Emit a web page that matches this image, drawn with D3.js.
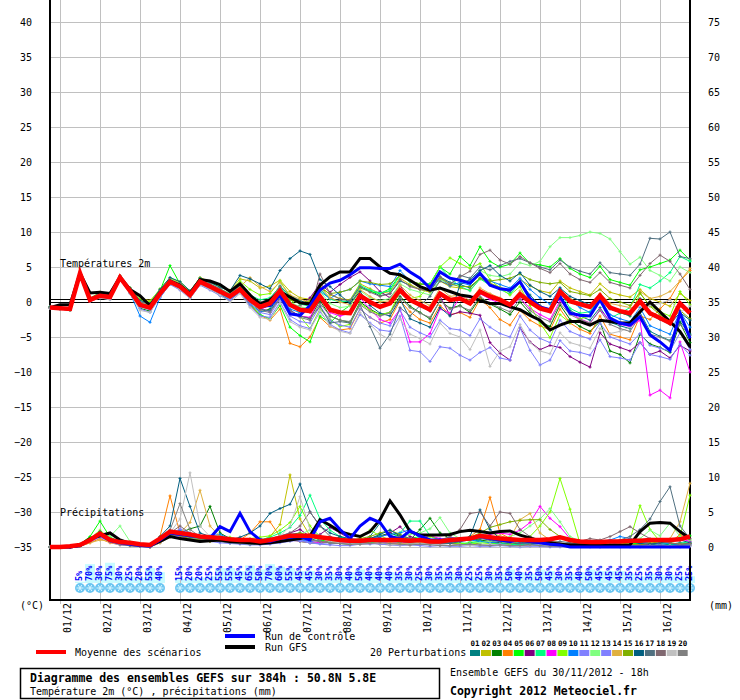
<!DOCTYPE html>
<html>
<head>
<meta charset="utf-8">
<title>Diagramme des ensembles GEFS</title>
<script src="https://cdnjs.cloudflare.com/ajax/libs/d3/7.8.5/d3.min.js"></script>
<style>
  body { margin: 0; background: #ffffff; }
  text { font-family: "DejaVu Sans Mono", "Liberation Mono", monospace; }
</style>
</head>
<body>
<div id="diagramme"></div>
<script>

//----- Daten -------------------------------------------------------------------------------------------//

var dates = ['01/12','02/12','03/12','04/12','05/12','06/12','07/12','08/12','09/12','10/12','11/12','12/12','13/12','14/12','15/12','16/12'];
var tempTicks = [-35,-30,-25,-20,-15,-10,-5,0,5,10,15,20,25,30,35,40];
var mmTicks = [0,5,10,15,20,25,30,35,40,45,50,55,60,65,70,75];
var pertNames = ['01','02','03','04','05','06','07','08','09','10','11','12','13','14','15','16','17','18','19','20'];
var pertColors = ['#008080','#c0c000','#008000','#ff8000','#00ff00','#800080','#00ff80','#ff00ff','#80ff00','#0080ff',
                  '#8080ff','#80ff80','#8080ff','#e0b040','#80b000','#005f80','#507080','#806870','#c0c0c0','#808080'];

// Probabilité de neige (%), un pas de 6h
var snowProb = [null,null,null,5,70,30,75,30,25,20,55,40,null,
  15,20,20,25,55,55,45,65,50,70,60,55,45,45,30,35,30,40,50,40,
  40,40,35,30,25,30,35,35,30,25,25,30,35,50,40,35,50,45,30,35,40,50,45,45,45,35,25,35,30,30,25,25];

// Température 2m (°C)
var tempMean = [-0.8,-0.9,-1.0,4.1,0.3,0.9,0.7,3.5,1.6,-0.4,-0.8, 1.2,2.9,2.2,1.0,2.9,2.2,1.5,0.8,1.8,0.3, -0.7,-0.2,1.6,-0.4,-1.1,-1.3,0.8,-1.1,-1.5,-1.6, 0.9,0.0,-0.7,-0.2,1.7,0.3,-0.4,-1.1,1.2,0.3, 0.5,-0.2,1.5,0.8,0.3,-0.4,1.1,0.0,-0.9,-1.3, 1.5,0.1,-0.3,-0.7,0.9,-0.8,-1.3,-1.6,0.1,-1.6, -2.3,-3.0,-0.2,-1.6];
var tempCtrl = [-0.8,-0.9,-1.0,4.1,0.3,0.9,0.7,3.5,1.6, -0.4,-0.8,1.2,2.9,2.2,1.0,2.9,2.2,1.5,0.8,1.8,0.3, -0.6,-0.5,1.0,-1.7,-1.9,-0.5,1.7,2.7,3.1,3.9, 4.9,4.9,4.8,4.8,5.4,4.3,3.4,2.0,4.3,3.4, 3.1,2.7,4.1,2.4,1.9,1.7,2.9,0.5,-0.7,-1.1, 0.8,-1.6,-1.9,-2.0,0.3,-2.3,-3.0,-3.3,-2.1,-4.7, -5.7,-6.9,-1.6,-5.2];
var tempGfs = [-0.8,-0.4,-0.4,4.1,1.3,1.4,1.2,3.6,1.8, 0.9,-0.5,1.3,3.0,2.4,1.2,3.2,3.0,2.5,1.5,2.6,1.0, -0.3,0.3,1.5,0.7,-0.1,-0.3,2.4,3.6,4.3,4.3, 6.2,6.2,5.0,4.1,3.9,3.1,2.2,1.7,2.0,1.5, 1.0,0.8,0.2,-0.2,-0.2,-0.7,-1.1,-1.9,-2.6,-4.0, -3.3,-2.8,-2.8,-3.3,-2.6,-2.8,-3.0,-3.0,-1.4,0.0, -1.4,-2.8,-4.2,-6.4];

var t01 = [-0.8,-0.9,-1.1,4.0,0.5,1.1,0.9,3.6,1.8, -0.2,-0.5,1.4,3.1,2.6,1.2,3.2,2.5,1.8,1.0,2.2,0.8, -0.2,0.4,2.3,0.9,0.2,-0.3,1.9,0.5,0.2,0.0, 2.2,1.6,0.9,1.2,3.0,2.4,1.8,1.5,3.6,2.8, 2.5,2.0,3.4,2.6,2.0,1.4,2.8,1.0,-0.5,-1.4, 0.8,-1.2,-2.0,-2.6,-0.8,-2.9,-3.4,-3.8,-1.5,-4.2, -4.9,-5.5,-2.8,-4.6];
var t02 = [-0.7,-0.8,-0.9,4.2,0.6,1.3,1.0,3.7,2.0, 0.5,0.2,1.7,3.3,2.7,1.5,3.5,2.9,2.3,1.7,3.3,3.0, 2.0,2.3,3.1,1.5,0.6,0.4,2.4,1.0,0.5,0.3, 2.6,1.9,1.2,1.5,3.4,2.5,1.8,1.4,3.0,2.2, 2.0,1.7,3.3,2.7,2.1,1.6,3.2,2.3,1.6,1.3, 3.0,2.0,1.5,1.0,2.6,1.4,1.0,0.7,1.8,0.5, 0.0,-0.6,1.2,0.2];
var t03 = [-0.9,-1.0,-1.2,4.0,0.2,0.8,0.5,3.3,1.3, -0.9,-1.3,0.8,2.6,1.8,0.6,2.6,1.8,1.0,0.2,1.5,-0.2, -1.4,-1.0,1.0,-1.2,-2.0,-2.3,0.2,-2.0,-2.6,-2.9, 0.0,-1.0,-1.8,-1.5,0.8,-0.6,-1.5,-2.4,0.2,-0.9, -0.5,-1.5,0.6,-0.3,-1.0,-1.8,0.0,-1.6,-2.8,-3.5, -0.4,-2.5,-3.5,-4.2,-2.8,-7.0,-7.5,-8.7,-4.6,-6.0, -6.5,-7.2,-3.0,-5.8];
var t04 = [-0.8,-0.9,-1.0,4.1,0.2,0.7,0.5,3.4,1.4, -0.6,-1.0,1.0,2.7,2.0,0.8,2.6,1.9,1.1,0.5,1.4,-0.4, -1.9,-2.6,-1.0,-5.9,-6.4,-5.0,-2.2,-3.5,-4.0,-3.8, -1.0,-2.2,-3.0,-2.5,0.2,-1.4,-2.5,-3.0,-0.5,-1.8, -1.5,-2.2,0.4,-0.8,-2.5,-3.3,-1.2,-2.6,-3.4,-4.0, -1.0,-3.0,-3.9,-4.5,-2.0,-4.6,-5.0,-5.4,-2.0,-2.5, -1.0,0.5,3.0,4.5];
var t05 = [-0.8,-0.9,-1.0,4.2,0.4,1.2,0.8,3.6,1.7, -0.3,-0.7,1.6,5.2,2.6,1.0,3.0,2.2,1.2,0.4,1.9,-0.3, -1.8,-2.4,-0.5,-3.6,-4.8,-5.7,-2.0,-3.0,-1.5,-0.5, 2.0,1.5,1.2,1.9,3.9,3.0,2.5,2.6,5.0,4.0, 6.5,5.2,7.9,5.8,5.0,5.4,7.0,5.5,5.3,5.0, 6.2,4.8,4.0,3.5,5.1,3.2,2.8,2.4,4.6,5.0, 5.5,6.0,7.4,6.0];
var t06 = [-0.8,-0.9,-1.0,4.1,0.3,0.8,0.6,3.4,1.5, -0.5,-0.9,1.1,2.8,2.1,0.9,2.8,2.1,1.4,0.6,1.6,0.0, -1.0,-0.5,1.2,-0.4,-0.6,0.6,2.6,1.4,2.5,3.5, 4.3,3.0,1.5,0.6,2.4,0.2,-0.6,-1.3,0.8,-1.9, -1.4,-1.6,-1.9,-5.8,-7.3,-8.3,-3.7,-5.7,-6.8,-6.2, -6.5,-7.8,-8.6,-9.3,-4.4,-6.0,-6.5,-7.0,-5.8,-7.5, -7.0,-8.0,-6.2,-7.0];
var t07 = [-0.7,-0.8,-0.9,4.2,0.4,1.0,0.8,3.6,1.7, -0.2,-0.5,1.5,3.2,2.5,1.2,3.1,2.5,1.8,1.2,2.4,1.0, 0.3,0.6,2.2,0.5,-0.3,-0.6,1.8,0.4,0.0,0.2, 2.4,1.7,1.3,1.6,3.8,2.9,2.6,2.6,5.0,3.4, 2.2,1.6,3.3,2.4,1.8,1.1,2.8,0.4,-0.8,-1.2, 1.5,-0.9,-1.6,-1.4,0.8,-2.3,-1.6,-0.8,2.5,2.0, 3.0,4.2,6.5,5.8];
var t08 = [-0.8,-0.9,-1.0,4.0,0.3,0.9,0.7,3.3,1.5, -0.4,-0.9,1.3,2.9,2.2,1.0,3.0,2.3,1.6,0.9,2.0,0.3, -0.8,-1.4,0.9,-1.2,-2.0,-2.2,0.5,-1.5,-2.0,-1.6, 0.6,-1.0,-2.5,-3.0,-1.0,-5.7,-5.7,-4.5,-1.0,-1.6, 0.7,0.7,1.2,0.4,-0.2,-0.8,0.6,-0.9,-1.8,-2.5, 0.2,-1.5,-2.4,-3.0,-1.1,-2.7,-3.2,-3.5,-2.6,-13.3, -12.6,-13.7,-5.7,-10.0];
var t09 = [-0.8,-0.9,-1.0,4.2,0.5,1.4,1.0,3.6,2.0, 0.3,0.0,1.9,3.4,2.9,1.6,3.4,2.8,2.2,1.5,3.0,1.8, 1.0,1.2,3.0,0.8,-2.0,-3.8,-1.0,-2.5,-3.5,-3.2, -0.2,-1.2,-1.8,-1.5,1.5,0.5,0.8,2.5,5.0,6.3, 5.5,4.8,5.5,3.2,2.0,1.0,2.2,-0.5,-3.0,-5.1, -1.8,-3.0,-2.4,-2.0,1.0,-0.5,-1.5,-2.0,1.2,-0.5, -1.4,-2.0,1.5,-0.4];
var t10 = [-0.8,-0.9,-1.0,4.0,0.2,0.7,0.4,3.3,1.3, -2.0,-2.9,0.6,2.6,1.9,0.6,2.5,1.8,1.0,0.3,1.6,-0.3, -1.4,-1.2,1.0,-1.0,-1.5,-1.0,1.5,0.5,1.4,1.8, 3.0,2.6,2.4,2.2,4.5,3.0,2.2,1.6,3.4,2.3, 2.8,2.4,4.0,3.0,2.5,2.0,3.4,1.8,0.6,-0.3, 2.0,0.2,-0.8,-1.5,0.5,-1.8,-2.4,-2.8,-0.8,-3.4, -4.0,-4.6,-1.4,-3.6];
var t11 = [-0.9,-1.0,-1.1,3.9,0.1,0.6,0.4,3.2,1.2, -1.0,-1.5,0.7,2.5,1.7,0.5,2.4,1.7,0.9,0.2,1.4,-0.6, -2.0,-2.2,0.0,-2.5,-3.4,-3.8,-1.4,-3.2,-4.0,-4.4, -1.8,-3.0,-4.0,-4.2,-2.0,-6.9,-7.1,-8.5,-6.4,-6.6, -7.6,-8.3,-7.2,-6.5,-8.0,-8.3,-3.7,-6.9,-9.0,-8.3, -5.5,-7.0,-7.2,-7.6,-5.4,-7.8,-8.0,-8.3,-5.8,-7.5, -7.8,-8.2,-6.0,-7.6];
var t12 = [-0.7,-0.8,-0.9,4.2,0.5,1.2,1.0,3.7,1.9, 0.0,-0.3,1.6,3.2,2.5,1.3,3.3,2.6,1.9,1.2,2.3,0.8, -0.2,0.3,2.0,0.0,-0.7,-0.9,1.5,-0.2,-0.8,-0.6, 1.6,0.6,0.2,0.5,2.6,1.8,1.4,1.0,3.2,2.6, 3.3,2.8,4.5,3.8,3.6,4.0,5.6,5.2,5.8,7.9, 9.2,9.2,9.5,10.0,9.8,9.0,7.2,5.4,6.4,4.5, 3.8,3.0,5.0,4.2];
var t13 = [-0.8,-0.9,-1.0,4.0,0.3,0.8,0.6,3.4,1.5, -0.7,-1.1,1.0,2.8,2.0,0.8,2.7,2.0,1.2,0.4,1.6,-0.2, -1.5,-1.8,0.4,-2.0,-2.8,-3.0,-0.6,-2.6,-3.3,-3.6, -1.0,-2.2,-3.0,-3.4,-1.2,-3.6,-4.4,-5.0,-2.6,-3.8, -4.0,-4.8,-2.4,-3.6,-4.5,-5.0,-2.0,-4.0,-5.2,-5.8, -2.6,-4.2,-4.8,-5.3,-3.0,-5.0,-5.5,-6.0,-4.5,-6.2, -6.6,-7.0,-4.4,-6.8];
var t14 = [-0.8,-0.9,-1.0,4.1,0.4,1.0,0.8,3.5,1.7, -0.2,-0.6,1.4,3.0,2.4,1.1,3.1,2.4,1.7,1.0,2.2,3.5, 2.2,1.5,2.8,1.0,0.4,0.0,2.2,0.6,0.0,-0.4, 1.8,0.8,0.0,0.2,2.4,1.0,0.2,-0.5,2.0,0.8, 1.0,0.2,2.0,1.2,0.6,-0.2,1.6,0.3,-0.6,-1.0, 1.8,0.5,-0.2,-0.6,1.2,-0.2,-0.5,-0.8,1.5,0.5, 0.8,1.5,3.0,4.8];
var t15 = [-0.8,-0.9,-1.0,4.1,0.3,0.9,0.7,3.5,1.6, -0.3,-0.7,1.3,3.0,2.3,1.1,3.0,2.3,1.6,0.9,2.0,0.4, -0.4,0.2,1.8,0.3,-0.2,0.2,2.0,1.2,1.4,1.8, 3.0,2.8,2.5,2.6,3.8,3.0,2.6,2.4,3.4,2.6, 2.2,2.2,3.4,3.0,3.2,3.4,4.0,3.2,2.8,2.6, 2.8,1.5,1.2,0.9,1.8,0.5,0.0,-0.5,1.3,-0.6, -1.8,-2.8,-1.2,-2.4];
var t16 = [-0.7,-0.8,-0.9,4.2,0.5,1.3,1.0,3.7,2.0, 0.2,-0.2,1.8,3.5,2.9,1.6,3.4,2.8,2.1,1.6,3.8,3.3, 2.6,1.9,4.5,6.2,7.3,6.8,3.2,2.2,1.0,-0.2, 1.5,-0.5,-1.6,-2.0,0.4,-2.4,-3.0,-3.6,-0.8,-2.0, 2.5,3.2,4.5,5.2,3.8,3.0,4.2,2.4,1.5,0.8, 2.0,0.8,0.2,-0.4,1.0,-1.0,-1.5,-2.0,0.5,-1.8, -2.5,-3.2,-1.5,-2.6];
var t17 = [-0.8,-0.9,-1.0,4.1,0.4,1.0,0.8,3.5,1.7, -0.3,-0.6,1.3,3.0,2.3,1.1,3.0,2.3,1.5,0.8,2.0,0.3, -1.0,-1.3,0.6,-1.2,-2.0,-2.4,-0.6,-3.0,-2.8,-3.0, -0.4,-3.5,-6.6,-4.6,-0.8,-2.0,-0.5,0.8,3.0,2.4, 3.8,3.4,5.0,4.6,5.2,5.8,6.2,5.6,5.0,4.6, 6.0,5.0,4.4,4.0,5.6,4.2,4.0,3.8,5.4,9.1, 9.0,10.0,6.5,6.2];
var t18 = [-0.7,-0.8,-0.9,4.2,0.5,1.2,1.0,3.7,1.9, 0.0,-0.3,1.6,3.2,2.6,1.3,3.2,2.6,1.9,1.1,2.4,1.0, 0.0,0.4,2.2,-0.2,-1.0,-1.5,4.0,1.2,0.4,0.2, 2.2,1.4,0.8,1.2,3.2,2.2,1.8,1.6,3.6,2.6, 3.6,4.4,6.8,7.4,6.0,5.4,6.5,5.6,4.8,4.2, 5.5,4.0,3.2,2.8,4.2,2.8,2.4,2.0,3.8,5.5, 6.7,5.8,4.0,1.8];
var t19 = [-0.9,-1.0,-1.1,4.0,0.1,0.6,0.3,3.2,1.2, -1.2,-1.5,0.8,2.6,1.8,0.5,2.5,1.8,1.0,0.0,1.2,-0.8, -2.2,-2.5,-0.2,-2.8,-3.6,-4.0,-1.2,-3.4,-4.2,-4.5, -1.5,-3.2,-4.6,-5.4,-2.4,-4.6,-5.2,-6.0,-3.0,-4.5, -5.0,-6.8,-4.0,-9.2,-7.0,-6.4,-3.2,-5.8,-7.0,-7.4, -4.4,-5.8,-6.2,-6.6,-3.8,-4.5,-4.2,-3.6,-1.0,-0.5, -0.2,0.3,-1.5,-0.6];
var t20 = [-0.8,-0.9,-1.0,4.1,0.3,0.9,0.7,3.5,1.6, -0.5,-0.9,1.1,2.8,2.1,0.9,2.8,2.1,1.4,0.6,1.7,0.0, -1.2,-1.5,0.5,-1.4,-2.2,-2.6,-0.2,-2.0,-2.6,-2.8, -0.4,-1.4,-2.0,-1.6,0.6,-0.8,-1.6,-2.2,0.2,-1.0, -0.6,-1.2,0.8,-0.2,-0.8,-1.4,0.4,-1.2,-2.2,-2.8, -0.2,-1.8,-2.5,-3.0,-1.2,-3.2,-3.8,-4.2,-2.0,-4.6, -5.0,-5.6,-3.2,-4.8];

// Précipitations (mm / 6h)
var precMean = [0,0,0.1,0.3,1.0,1.9,1.0,0.7,0.6,0.4,0.3, 1.2,2.2,2.0,1.8,1.5,1.4,1.3,1.1,1.0,1.0, 0.8,1.0,1.3,1.6,1.6,1.6,1.4,1.2,1.0,0.9, 0.9,1.0,1.0,1.0,1.0,0.9,1.0,0.8,0.8,1.0, 1.1,1.2,1.6,1.4,1.2,1.1,1.0,1.0,1.0,1.1, 1.4,1.0,0.8,0.7,0.7,0.8,0.8,0.9,0.9,1.0, 1.0,1.0,1.1,1.5];
var precCtrl = [0,0,0,0.2,1.0,1.8,0.9,0.6,0.4,0.2,0.1, 1.0,2.0,1.8,1.6,1.5,1.3,2.9,2.2,4.8,2.2, 1.0,0.8,1.2,1.4,1.5,1.0,3.6,4.1,2.5,1.2, 3.0,4.1,3.5,1.5,1.2,2.3,1.6,1.0,1.0,0.9, 1.0,1.2,1.5,1.2,1.0,0.8,1.0,0.8,0.6,0.4, 0.3,0,0,0,0,0,0,0,0,0, 0,0,0,0];
var precGfs = [0,0,0,0.2,1.2,1.6,2.0,1.0,0.5,0.3,0.2, 0.8,1.5,1.2,1.0,0.8,0.9,1.0,0.8,0.7,0.6, 0.5,0.6,0.8,1.0,1.2,1.6,3.9,3.1,2.2,1.8, 1.5,2.2,3.9,6.6,4.6,2.2,1.7,1.7,1.7,1.8, 2.2,2.4,2.2,2.0,2.2,2.3,1.7,1.3,0.8,0.6, 0.4,0.3,0.3,0.2,0.2,0.2,0.2,0.3,2.2,3.4, 3.5,3.4,2.2,1.2];

var p01 = [0,0,0,0.2,1.2,2.2,1.0,0.5,0.3,0.2,0.1, 1.0,2.4,2.0,1.6,1.2,1.5,1.0,0.8,0.6,0.8, 0.6,1.0,1.4,1.8,2.0,1.2,0.8,0.6,0.5,0.4, 0.8,1.5,3.4,1.8,0.8,0.6,0.5,0.4,0.6,0.8, 1.0,1.2,0.8,0.6,0.5,0.4,0.6,0.8,0.5,0.3, 0.2,0.4,0.6,0.3,0.2,0.2,0.4,0.6,0.5,0.3, 0.2,0.4,0.6,0.5];
var p02 = [0,0,0,0.3,0.8,1.6,0.8,0.4,0.2,0.1,0.0, 0.6,1.8,2.2,1.5,1.0,0.8,0.8,0.6,0.5,0.4, 0.8,1.5,3.2,10.3,4.0,1.6,1.0,0.8,0.6,0.6, 0.8,0.6,0.4,0.3,0.4,0.5,0.6,0.4,0.3,0.2, 0.4,0.6,0.8,0.6,0.4,0.3,0.2,0.4,0.5,0.3, 0.2,0.1,0.2,0.4,0.3,0.2,0.1,0.2,0.3,0.2, 0.1,0.2,0.3,0.2];
var p03 = [0,0,0,0.2,1.0,2.0,1.2,0.8,0.4,0.2,0.1, 0.8,1.6,2.0,2.6,3.0,5.8,2.0,1.2,0.8,0.6, 0.5,0.8,1.0,1.2,0.8,0.6,0.5,1.0,1.4,1.0, 0.8,1.2,1.6,2.0,1.5,1.0,2.5,4.1,2.0,1.2, 0.8,1.2,1.0,0.8,0.6,0.5,0.4,0.6,0.3,0.2, 0.2,0.3,0.4,0.2,0.1,0.2,0.3,0.2,0.4,0.3, 0.5,0.4,0.3,0.6];
var p04 = [0,0,0,0.1,0.6,1.2,0.6,0.3,0.2,0.1,0.0, 1.5,7.3,2.0,1.2,1.0,0.8,1.0,1.2,1.0,2.0, 3.6,3.6,1.5,1.0,0.8,0.6,0.5,0.8,0.6,0.4, 0.5,0.6,0.8,0.6,0.4,0.3,0.5,0.4,0.6,0.8, 1.0,1.5,2.5,7.1,2.0,1.2,0.8,1.0,0.6,0.4, 0.3,0.2,0.1,0.2,0.3,0.2,0.4,0.6,0.8,0.6, 0.4,0.6,1.8,1.0];
var p05 = [0,0,0,0.4,1.5,3.7,1.4,0.8,0.4,0.2,0.2, 1.2,2.0,1.8,1.4,1.2,1.0,1.2,0.8,0.6,0.5, 0.6,0.8,1.0,1.4,1.8,1.5,1.0,0.8,1.2,1.0, 0.8,0.6,1.0,0.8,0.6,1.2,1.5,1.0,0.8,0.6, 0.4,0.6,0.8,0.5,0.4,0.3,0.4,0.6,0.8,0.5, 0.4,0.3,0.2,0.4,0.5,0.3,0.2,0.4,0.6,0.8, 0.6,0.8,1.2,1.6];
var p06 = [0,0,0,0.2,0.9,1.6,0.8,0.5,0.3,0.1,0.1, 0.8,1.8,1.6,1.2,1.0,1.2,1.5,1.0,0.8,1.0, 1.2,0.8,1.5,2.0,2.5,1.5,1.8,2.8,2.0,1.2, 0.8,1.0,1.4,2.0,2.9,1.5,1.0,0.8,0.6,0.5, 0.4,0.3,0.6,0.8,0.5,0.4,0.3,0.2,0.4,0.3, 0.2,0.2,0.1,0.1,0.2,0.1,0.1,0.2,0.3,0.2, 0.2,0.1,0.2,0.3];
var p07 = [0,0,0,0.2,1.0,2.0,1.0,0.6,0.3,0.2,0.1, 1.0,2.0,1.8,1.4,1.2,1.4,1.6,1.0,0.8,0.8, 1.0,1.4,2.0,2.8,4.5,7.4,4.0,2.4,1.5,1.0, 0.8,0.6,0.8,1.2,2.0,3.7,3.7,1.6,1.0,0.8, 0.6,0.5,0.8,0.6,0.5,0.4,0.3,0.6,0.8,0.5, 0.4,0.3,0.4,0.2,0.2,0.3,0.4,0.3,0.2,0.4, 0.6,0.4,0.5,0.8];
var p08 = [0,0,0,0.2,0.8,1.5,0.8,0.5,0.3,0.2,0.1, 0.8,1.6,1.5,1.2,1.0,0.9,1.0,1.2,0.8,0.6, 0.5,0.6,0.8,1.0,1.2,0.8,0.6,1.0,0.8,0.6, 0.8,1.0,0.8,0.6,0.5,0.8,1.2,1.6,1.2,1.0, 0.8,1.0,1.5,1.8,2.0,1.8,2.4,3.5,5.8,4.1, 2.9,1.2,0.5,0.3,0.2,0.4,0.6,0.4,0.3,0.4, 0.6,0.8,1.2,0.8];
var p09 = [0,0,0,0.3,1.2,2.4,1.2,0.6,0.3,0.2,0.1, 1.0,2.0,2.2,1.6,1.2,1.0,1.2,1.4,1.0,1.2, 1.4,1.6,2.4,3.5,5.8,3.0,1.5,1.2,1.0,0.8, 1.2,2.4,1.6,1.0,0.8,1.0,1.2,1.5,1.0,0.6, 0.5,0.4,0.6,0.5,0.3,0.4,0.8,1.5,3.0,5.0, 9.8,5.4,0.5,0.2,0.1,0.3,0.4,1.0,5.9,2.5, 0.8,0.6,1.5,7.4];
var p10 = [0,0,0,0.2,1.0,1.8,1.0,0.5,0.3,0.1,0.1, 1.2,2.0,2.4,1.8,1.5,1.6,1.8,1.2,1.0,0.8, 0.6,0.8,1.0,1.2,1.0,0.8,1.0,1.4,1.2,0.8, 1.0,1.2,1.5,1.8,2.0,2.5,1.2,0.8,1.0,1.4, 1.2,1.0,0.8,0.6,0.8,1.0,0.6,0.4,0.3,0.2, 0.2,0.3,0.4,0.6,0.8,1.0,1.5,1.2,0.8,0.5, 0.4,0.5,0.3,0.4];
var p11 = [0,0,0,0.1,0.7,1.4,0.7,0.3,0.2,0.1,0.0, 0.6,1.4,1.6,1.3,1.0,0.8,0.6,0.5,0.4,0.3, 0.3,0.4,0.6,0.8,1.0,0.6,0.4,0.3,0.2,0.2, 0.4,0.5,0.4,0.3,0.2,0.3,0.2,0.1,0.2,0.1, 0.1,0.2,0.1,0.1,0.2,0.1,0.0,0.1,0.1,0.0, 0.0,0.1,0.1,0.0,0.0,0.1,0.1,0.0,0.0,0.1, 0.1,0.0,0.1,0.2];
var p12 = [0,0,0,0.3,1.2,2.0,1.5,3.0,0.8,0.3,0.1, 0.8,1.6,1.8,1.4,1.2,1.0,1.2,1.0,0.8,0.6, 0.8,1.0,1.2,1.5,1.8,2.4,1.6,1.2,1.0,0.8, 0.6,0.8,1.0,1.2,1.5,1.8,2.0,2.6,4.2,2.0, 1.2,0.8,0.6,0.8,1.0,1.5,2.0,3.0,4.0,5.5, 3.6,1.5,0.8,0.5,0.4,0.6,0.8,1.0,1.2,2.4, 1.6,3.4,1.5,1.0];
var p13 = [0,0,0,0.2,0.9,1.7,0.9,0.4,0.2,0.1,0.1, 0.9,1.8,2.6,2.0,1.4,1.0,0.8,0.6,0.5,0.6, 0.8,0.6,0.8,1.0,0.8,0.6,0.5,0.4,0.6,0.8, 0.5,0.4,0.6,0.8,0.5,0.4,0.3,0.4,0.3,0.2, 0.3,0.4,0.2,0.3,0.4,0.2,0.1,0.2,0.3,0.2, 0.1,0.2,0.1,0.1,0.2,0.1,0.0,0.1,0.2,0.1, 0.2,0.1,0.0,0.1];
var p14 = [0,0,0,0.1,0.6,1.0,0.8,0.4,0.2,0.1,0.0, 0.6,1.4,2.0,3.5,8.1,3.0,1.5,1.0,0.8,0.6, 0.5,0.6,0.8,1.0,1.2,1.0,0.8,0.6,0.5,0.4, 0.6,0.8,1.0,0.6,0.5,0.4,0.6,0.8,0.6,0.5, 0.8,1.2,1.5,2.0,1.6,1.2,3.9,4.8,2.0,1.0, 0.6,0.4,0.3,0.2,0.1,0.2,0.4,0.6,1.0,0.8, 0.6,1.2,3.6,9.1];
var p15 = [0,0,0,0.2,1.0,1.8,1.0,0.5,0.3,0.2,0.1, 0.9,1.8,1.6,1.2,1.0,0.8,1.0,1.2,1.0,0.8, 0.6,0.8,1.2,1.6,2.0,1.6,1.2,1.0,0.8,1.0, 1.2,1.5,2.0,2.4,1.8,1.2,1.0,0.8,0.6,0.8, 1.0,1.4,2.0,2.8,3.2,3.6,3.8,3.9,3.9,2.5, 1.5,0.8,0.4,0.3,0.2,0.4,0.6,0.4,0.3,0.5, 0.8,0.6,0.4,0.5];
var p16 = [0,0,0,0.3,1.1,2.2,1.1,0.6,0.3,0.2,0.1, 1.5,3.0,9.8,5.8,2.0,1.5,1.2,1.0,1.4,2.0, 3.0,4.8,5.5,6.1,9.0,5.0,3.0,2.0,1.5,1.2, 1.0,1.2,1.8,2.4,1.6,1.2,1.0,0.8,0.6,0.5, 0.8,1.5,5.3,2.5,1.2,1.0,0.8,0.6,0.5,0.4, 0.3,0.2,0.3,0.4,0.5,0.4,0.6,0.8,0.5,0.4, 0.6,0.8,1.0,0.6];
var p17 = [0,0,0,0.2,0.9,1.6,0.8,0.4,0.2,0.1,0.0, 0.8,1.6,1.8,1.4,1.2,1.0,0.8,0.6,0.5,0.4, 0.4,0.6,0.8,1.0,1.2,1.0,0.8,0.6,0.5,0.4, 0.6,0.8,1.0,1.2,0.8,0.6,0.5,0.4,0.5,0.6, 0.8,1.0,1.2,1.0,0.8,0.6,0.5,0.4,0.5,0.6, 0.8,0.6,0.4,0.3,0.5,0.8,1.0,1.5,2.5,4.0, 6.5,8.6,3.0,1.2];
var p18 = [0,0,0,0.2,1.0,2.0,1.0,0.5,0.3,0.2,0.1, 1.0,2.0,3.0,2.0,1.5,1.2,1.0,0.8,0.6,0.8, 1.0,1.2,1.6,2.0,3.0,5.0,3.0,1.5,1.0,0.8, 0.6,0.8,1.0,1.2,1.5,1.2,1.0,0.8,1.0,1.5, 2.5,4.8,5.0,3.0,5.0,4.8,2.5,1.5,1.0,0.8, 0.6,0.4,0.8,1.2,1.0,1.5,2.2,2.9,2.0,1.2, 0.8,0.6,0.4,0.5];
var p19 = [0,0,0,0.2,1.0,1.8,1.0,0.5,0.3,0.2,0.1, 1.0,2.0,4.0,10.6,3.0,1.5,1.2,1.0,0.8,0.6, 0.8,1.0,1.5,3.0,7.2,2.5,1.2,0.8,0.6,0.5, 0.4,0.5,0.6,0.4,0.3,0.4,0.5,0.4,0.3,0.2, 0.3,0.2,0.3,0.4,0.3,0.2,0.1,0.2,0.3,0.2, 0.1,0.2,0.1,0.1,0.0,0.1,0.2,0.1,0.1,0.2, 0.1,0.2,0.1,0.2];
var p20 = [0,0,0,0.2,1.0,1.9,1.0,0.5,0.3,0.2,0.1, 1.0,2.4,6.2,2.5,1.5,1.2,1.0,0.8,0.6,0.5, 0.5,0.6,0.8,1.0,1.2,1.0,0.8,0.6,0.5,0.4, 0.4,0.5,0.6,0.5,0.4,0.3,0.4,0.3,0.2,0.2, 0.3,0.4,0.3,0.2,0.3,0.2,0.2,0.3,0.2,0.1, 0.1,0.2,0.1,0.2,0.1,0.1,0.2,0.1,0.2,0.1, 0.2,0.1,0.2,0.3];

var tempPert = [t01,t02,t03,t04,t05,t06,t07,t08,t09,t10,t11,t12,t13,t14,t15,t16,t17,t18,t19,t20];
var precPert = [p01,p02,p03,p04,p05,p06,p07,p08,p09,p10,p11,p12,p13,p14,p15,p16,p17,p18,p19,p20];


//----- Skalen ------------------------------------------------------------------------------------------//

var svg = d3.select('#diagramme').append('svg')
    .attr('width', 740)
    .attr('height', 700);

var x = d3.scaleLinear().domain([0, 64]).range([50, 690]);
var yTemp = d3.scaleLinear().domain([-35, 40]).range([547, 22]);
var yPrec = d3.scaleLinear().domain([0, 75]).range([547, 22]);


//----- Neige : cases et flocons ------------------------------------------------------------------------//

function drawSnow() {

    var g = svg.append('g').attr('id', 'snow');

    snowProb.forEach(function (p, k) {
        if (p === null) { return; }
        g.append('rect')
            .attr('x', x(k) - 5)
            .attr('y', 583 - p * 0.27)
            .attr('width', 10)
            .attr('height', p * 0.27)
            .attr('fill', '#c8fbff');
    });
}

function drawFlakes() {

    var g = svg.append('g').attr('id', 'flakes');

    snowProb.forEach(function (p, k) {
        if (p === null) { return; }
        var cx = x(k), cy = 588;
        g.append('circle')
            .attr('cx', cx).attr('cy', cy).attr('r', 5)
            .attr('fill', '#6cc6f2');
        for (var a = 0; a < 3; a++) {
            var ang = a * Math.PI / 3;
            g.append('line')
                .attr('x1', cx - 3.5 * Math.cos(ang)).attr('y1', cy - 3.5 * Math.sin(ang))
                .attr('x2', cx + 3.5 * Math.cos(ang)).attr('y2', cy + 3.5 * Math.sin(ang))
                .attr('stroke', '#d8f6ff')
                .attr('stroke-width', 1);
        }
        g.append('text')
            .attr('transform', 'translate(' + (x(k) - 0.5) + ',581) rotate(-90)')
            .attr('dy', '0.35em')
            .attr('text-anchor', 'start')
            .style('fill', '#0000ff')
            .style('font-size', '8.5px')
            .style('font-weight', 'bold')
            .text(p + '%');
    });
}


//----- Gitter und Achsen -------------------------------------------------------------------------------//

function drawGrid() {

    var g = svg.append('g').attr('id', 'grid')
        .attr('shape-rendering', 'crispEdges');

    g.selectAll('.hline').data(tempTicks).enter().append('line')
        .attr('x1', 50).attr('x2', 690)
        .attr('y1', function (d) { return yTemp(d) + 0.5; })
        .attr('y2', function (d) { return yTemp(d) + 0.5; })
        .attr('stroke', '#c0c0c0');

    g.selectAll('.vline').data(dates).enter().append('line')
        .attr('x1', function (d, i) { return x(1 + 4 * i) + 0.5; })
        .attr('x2', function (d, i) { return x(1 + 4 * i) + 0.5; })
        .attr('y1', 0).attr('y2', 604)
        .attr('stroke', '#c0c0c0');
}

function drawAxes() {

    var left = svg.append('g')
        .attr('transform', 'translate(50,0)')
        .call(d3.axisLeft(yTemp).tickValues(tempTicks).tickSize(0).tickPadding(18));
    left.select('.domain').remove();

    var right = svg.append('g')
        .attr('transform', 'translate(690,0)')
        .call(d3.axisRight(yPrec).tickValues(mmTicks).tickSize(0).tickPadding(18));
    right.select('.domain').remove();

    svg.selectAll('.tick text')
        .attr('font-family', '"DejaVu Sans Mono", monospace')
        .style('font-size', '10px')
        .style('fill', '#000');

    // zéro
    svg.append('line').attr('x1', 50).attr('x2', 690).attr('y1', 299.5).attr('y2', 299.5)
        .attr('stroke', '#000').attr('stroke-width', 1);
    svg.append('line').attr('x1', 50).attr('x2', 690).attr('y1', 302.5).attr('y2', 302.5)
        .attr('stroke', '#000').attr('stroke-width', 1);

    // cadre
    svg.append('path')
        .attr('d', 'M50,0V600H690V0')
        .attr('fill', 'none')
        .attr('stroke', '#000')
        .attr('stroke-width', 2);

    var labels = svg.append('g').attr('id', 'labels').style('fill', '#000000');

    labels.selectAll('.date').data(dates).enter().append('text')
        .attr('class', 'date')
        .attr('transform', function (d, i) { return 'translate(' + (x(1 + 4 * i) + 7) + ',603) rotate(-90)'; })
        .attr('dy', '0.35em')
        .attr('text-anchor', 'end')
        .style('font-size', '10px')
        .text(function (d) { return d; });

    labels.append('text').attr('x', 20).attr('y', 609).style('font-size', '10px').text('(°C)');
    labels.append('text').attr('x', 709).attr('y', 609).style('font-size', '10px').text('(mm)');

    labels.append('text').attr('x', 60).attr('y', 267).style('font-size', '10px').text('Températures 2m');
    labels.append('text').attr('x', 60).attr('y', 516).style('font-size', '10px').text('Précipitations');
}


//----- Kurven ------------------------------------------------------------------------------------------//

function drawSeries(_yScale, _pert, _gfs, _ctrl, _mean) {

    var line = d3.line()
        .x(function (d, i) { return x(i); })
        .y(function (d) { return _yScale(d); });

    var g = svg.append('g');

    _pert.forEach(function (serie, j) {
        g.append('path')
            .datum(serie)
            .attr('d', line)
            .attr('fill', 'none')
            .attr('stroke', pertColors[j])
            .attr('stroke-width', 1);

        g.append('g').selectAll('path').data(serie).enter().append('path')
            .attr('d', 'M-1.5,0H1.5M0,-1.5V1.5')
            .attr('transform', function (d, i) { return 'translate(' + x(i) + ',' + _yScale(d) + ')'; })
            .attr('stroke', pertColors[j])
            .attr('stroke-width', 1);
    });

    g.append('path').datum(_gfs).attr('d', line)
        .attr('fill', 'none').attr('stroke', '#000000').attr('stroke-width', 3);
    g.append('path').datum(_ctrl).attr('d', line)
        .attr('fill', 'none').attr('stroke', '#0000ff').attr('stroke-width', 3);
    g.append('path').datum(_mean).attr('d', line)
        .attr('fill', 'none').attr('stroke', '#ff0000').attr('stroke-width', 4.5);
}


//----- Legende -----------------------------------------------------------------------------------------//

function drawLegend() {

    var g = svg.append('g').attr('id', 'legend').style('fill', '#000000');

    g.append('line').attr('x1', 36).attr('x2', 66).attr('y1', 652).attr('y2', 652)
        .attr('stroke', '#ff0000').attr('stroke-width', 4);
    g.append('text').attr('x', 75).attr('y', 656).style('font-size', '10px').text('Moyenne des scénarios');

    g.append('line').attr('x1', 225).attr('x2', 255).attr('y1', 636).attr('y2', 636)
        .attr('stroke', '#0000ff').attr('stroke-width', 4);
    g.append('text').attr('x', 265).attr('y', 640).style('font-size', '10px').text('Run de contrôle');

    g.append('line').attr('x1', 225).attr('x2', 255).attr('y1', 647).attr('y2', 647)
        .attr('stroke', '#000000').attr('stroke-width', 4);
    g.append('text').attr('x', 265).attr('y', 651).style('font-size', '10px').text('Run GFS');

    g.append('text').attr('x', 370).attr('y', 656).style('font-size', '10px').text('20 Perturbations');

    g.selectAll('.pbox').data(pertColors).enter().append('rect')
        .attr('x', function (d, i) { return 470 + i * 10.93; })
        .attr('y', 650)
        .attr('width', 10)
        .attr('height', 6)
        .style('fill', function (d) { return d; });

    g.selectAll('.pnum').data(pertNames).enter().append('text')
        .attr('x', function (d, i) { return 475 + i * 10.93; })
        .attr('y', 646)
        .attr('text-anchor', 'middle')
        .style('font-size', '7.5px')
        .style('font-weight', 'bold')
        .text(function (d) { return d; });

    // Titelkasten
    g.append('rect').attr('x', 20.5).attr('y', 668.5).attr('width', 419).attr('height', 30)
        .style('fill', 'none').attr('stroke', '#000').attr('stroke-width', 1.5);
    g.append('text').attr('x', 30).attr('y', 682).style('font-size', '11.5px').style('font-weight', 'bold')
        .text('Diagramme des ensembles GEFS sur 384h : 50.8N 5.8E');
    g.append('text').attr('x', 30).attr('y', 695).style('font-size', '10px')
        .text('Température 2m (°C) , précipitations (mm)');

    g.append('text').attr('x', 450).attr('y', 676).style('font-size', '10px')
        .text('Ensemble GEFS du 30/11/2012 - 18h');
    g.append('text').attr('x', 450).attr('y', 695).style('font-size', '11.5px').style('font-weight', 'bold')
        .text('Copyright 2012 Meteociel.fr');
}


//--- Aufbau --------------------------------------------------------------------------------------------//

drawSnow();
drawGrid();
drawFlakes();
drawAxes();
drawSeries(yTemp, tempPert, tempGfs, tempCtrl, tempMean);
drawSeries(yPrec, precPert, precGfs, precCtrl, precMean);
drawLegend();

</script>
</body>
</html>
